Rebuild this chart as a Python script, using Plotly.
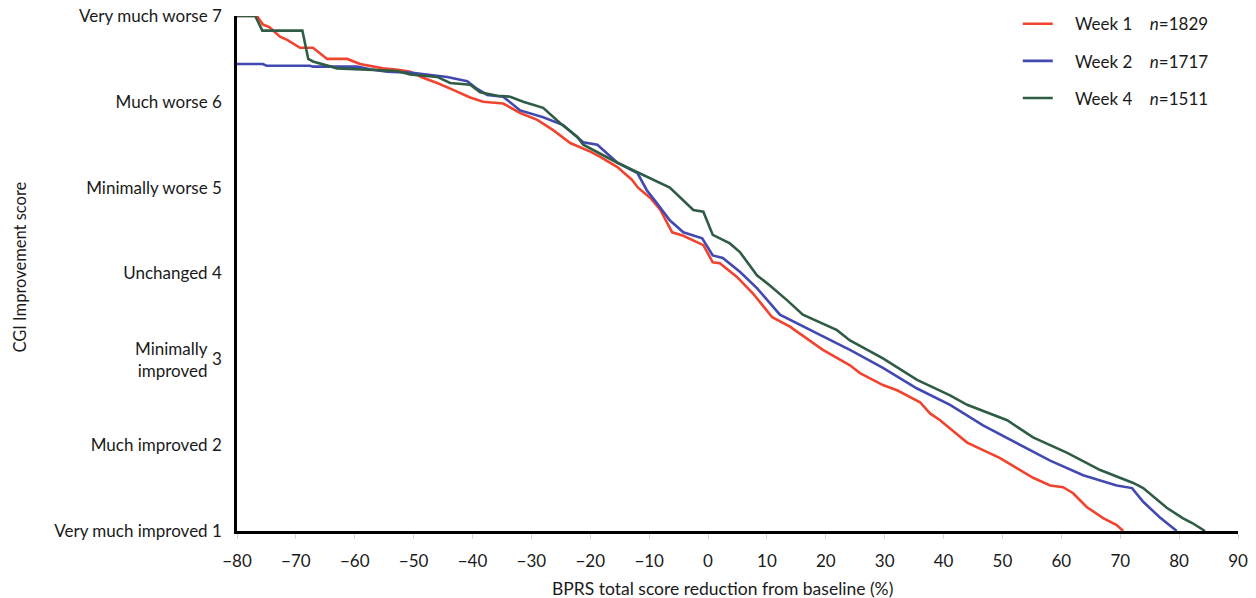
import plotly.graph_objects as go

# Week 1 (n=1829)
w1_x = [-80, -76.6, -75.6, -74.5, -72.7, -71.4, -69.3, -67.1, -64.7, -61.3, -59.1, -56.9, -55.2,
        -52.3, -50.6, -48.4, -46.0, -43.3, -40.4, -38.2, -34.8, -31.9, -29.0, -26.3, -23.4, -20.0,
        -18.3, -15.4, -12.9, -11.9, -9.8, -8.1, -6.1, -4.2, -1.9, -0.8, 0.8, 2.0, 4.9, 7.6, 10.9,
        13.9, 19.5, 24.1, 25.8, 29.7, 32.1, 36.0, 37.7, 39.4, 44.0, 46.7, 49.6, 52.5, 55.2, 58.1,
        60.3, 62.0, 64.3, 67.1, 69.4, 70.5]
w1_y = [7.0, 7.0, 6.9, 6.87, 6.76, 6.72, 6.63, 6.63, 6.5, 6.5, 6.44, 6.41, 6.39,
        6.37, 6.35, 6.28, 6.22, 6.14, 6.05, 6.0, 5.98, 5.87, 5.79, 5.67, 5.52, 5.42,
        5.36, 5.24, 5.09, 5.0, 4.88, 4.74, 4.48, 4.44, 4.37, 4.33, 4.13, 4.12, 3.96, 3.77, 3.49,
        3.38, 3.11, 2.93, 2.84, 2.7, 2.64, 2.5, 2.37, 2.29, 2.03, 1.94, 1.85, 1.73, 1.62, 1.53,
        1.51, 1.44, 1.28, 1.15, 1.07, 1.0]

# Week 2 (n=1717)
w2_x = [-80, -75.6, -75.0, -67.6, -67.1, -59.6, -57.4, -54.5, -50.6, -47.2, -44.3, -40.9, -39.2,
        -37.5, -34.8, -31.9, -28.0, -24.6, -21.2, -18.8, -15.4, -12.0, -10.4, -8.7, -6.5, -4.2,
        -1.0, 0.8, 2.5, 5.4, 8.3, 12.2, 17.3, 22.9, 24.1, 29.7, 35.5, 41.1, 46.7, 52.5, 58.1,
        63.7, 69.4, 72.0, 73.9, 76.7, 79.6]
w2_y = [6.44, 6.44, 6.42, 6.42, 6.41, 6.41, 6.38, 6.35, 6.34, 6.31, 6.29, 6.24, 6.15,
        6.08, 6.06, 5.9, 5.82, 5.73, 5.53, 5.5, 5.29, 5.17, 4.97, 4.82, 4.62, 4.48,
        4.41, 4.21, 4.18, 4.02, 3.83, 3.52, 3.34, 3.15, 3.11, 2.9, 2.66, 2.47, 2.23, 2.02, 1.82,
        1.65, 1.53, 1.5, 1.34, 1.16, 1.0]

# Week 4 (n=1511)
w4_x = [-80, -76.9, -75.7, -68.9, -67.9, -67.1, -63.0, -58.6, -56.2, -52.8, -50.6, -46.0, -43.8,
        -40.4, -38.7, -35.8, -33.6, -31.4, -28.0, -25.1, -22.2, -21.2, -15.4, -11.0, -8.1, -6.5,
        -2.5, -0.8, 0.8, 3.7, 5.4, 8.3, 10.5, 13.4, 16.1, 21.9, 24.1, 29.7, 35.5, 41.1, 44.0,
        47.9, 50.8, 55.2, 61.0, 66.6, 72.2, 73.9, 77.9, 80.6, 82.3, 84.4]
w4_y = [7.0, 7.0, 6.83, 6.83, 6.5, 6.47, 6.39, 6.38, 6.37, 6.36, 6.32, 6.29, 6.22,
        6.2, 6.11, 6.07, 6.06, 6.0, 5.93, 5.75, 5.59, 5.5, 5.29, 5.15, 5.05, 5.0,
        4.74, 4.72, 4.45, 4.35, 4.25, 3.98, 3.86, 3.69, 3.52, 3.34, 3.22, 3.01, 2.76, 2.58, 2.47,
        2.37, 2.29, 2.09, 1.91, 1.71, 1.56, 1.5, 1.27, 1.15, 1.09, 1.0]

PAD = "&nbsp;" * 4
GAP = "&nbsp;" * 4
series_names = [PAD + "Week 1" + GAP + "<i>n</i>=1829",
                PAD + "Week 2" + GAP + "<i>n</i>=1717",
                PAD + "Week 4" + GAP + "<i>n</i>=1511"]
colors = ["#F0442F", "#4249B0", "#2F5C45"]

x_ticks = list(range(-80, 91, 10))
y_ticks = [1, 2, 3, 4, 5, 6, 7]
y_ticktext = ["Very much improved 1", "Much improved 2", "3", "Unchanged 4",
              "Minimally worse 5", "Much worse 6", "Very much worse 7"]

FONT = "Lato, 'Open Sans', sans-serif"
TXT = "#1a1a1a"

fig = go.Figure()
for i, (xs, ys) in enumerate([(w1_x, w1_y), (w2_x, w2_y), (w4_x, w4_y)]):
    fig.add_trace(go.Scatter(
        x=xs, y=ys, mode="lines", name=series_names[i],
        line=dict(color=colors[i], width=2.6),
        legendgroup=f"g{i}", cliponaxis=False,
    ))

fig.update_layout(
    width=1256, height=598,
    margin=dict(l=237, r=18, t=16, b=67, autoexpand=False),
    paper_bgcolor="white", plot_bgcolor="white",
    font=dict(family=FONT, size=17, color=TXT),
    showlegend=True,
    legend=dict(x=0.78, y=1.019, xanchor="left", yanchor="top",
                font=dict(family=FONT, size=17, color=TXT),
                tracegroupgap=12, bgcolor="rgba(0,0,0,0)",
                itemwidth=30),
    xaxis=dict(range=[-80, 90], tickmode="array", tickvals=x_ticks,
               showgrid=False, zeroline=False, automargin=False,
               showline=True, linecolor="black", linewidth=2.5,
               ticks="outside", ticklen=5, tickcolor="#d0d4dc", tickwidth=1,
               ticklabelstandoff=8,
               tickfont=dict(family=FONT, size=17, color=TXT)),
    yaxis=dict(range=[1, 7], tickmode="array", tickvals=y_ticks, ticktext=y_ticktext,
               showgrid=False, zeroline=False, automargin=False,
               showline=True, linecolor="black", linewidth=2.5,
               ticks="", ticklabelstandoff=9,
               tickfont=dict(family=FONT, size=17, color=TXT)),
)

fig.add_annotation(x=-0.027, y=3, xref="paper", yref="y", xanchor="right", yanchor="middle",
                   text="Minimally<br>improved", align="right", showarrow=False,
                   font=dict(family=FONT, size=17, color=TXT))
fig.add_annotation(x=0.485, y=-0.112, xref="paper", yref="paper", xanchor="center",
                   yanchor="middle", text="BPRS total score reduction from baseline (%)",
                   showarrow=False, font=dict(family=FONT, size=17.5, color=TXT))
fig.add_annotation(x=-0.217, y=0.513, xref="paper", yref="paper", xanchor="center",
                   yanchor="middle", text="CGI Improvement score", textangle=-90,
                   showarrow=False, font=dict(family=FONT, size=16.5, color=TXT))

fig.write_html("out.html", config={"displayModeBar": False},
               post_script="document.body.style.margin='0';document.body.style.overflow='hidden';")
